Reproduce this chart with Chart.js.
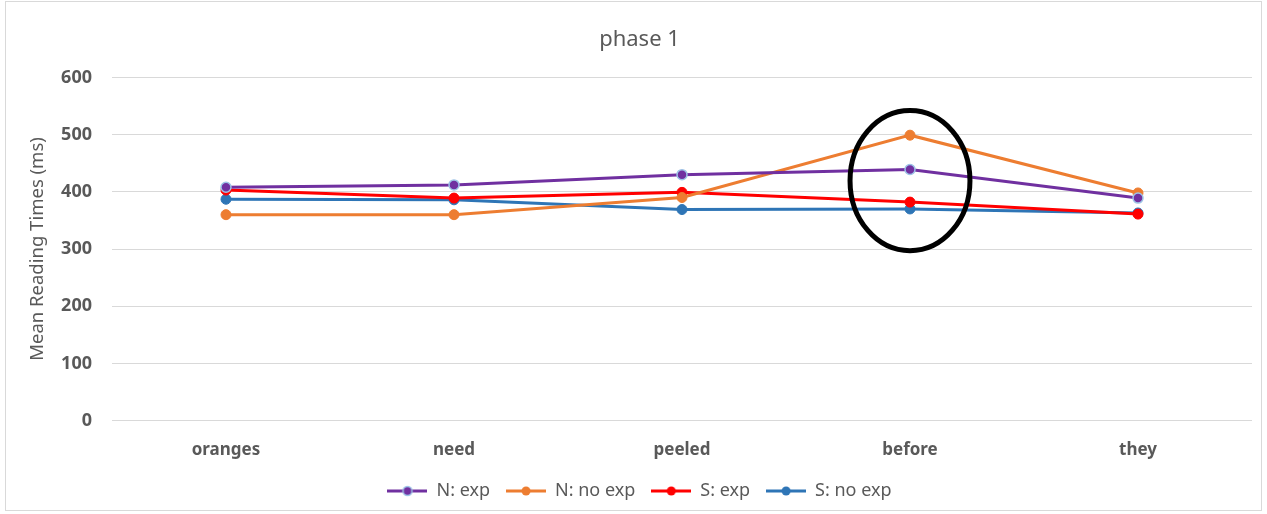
<!DOCTYPE html>
<html>
<head>
<meta charset="utf-8">
<script src="https://cdn.jsdelivr.net/npm/chart.js@4"></script>
<style>
  body{margin:0;background:#fff}
  #wrap{position:relative;width:1267px;height:514px}
  #frame{position:absolute;left:5px;top:1px;width:1255px;height:508px;border:1px solid #d9d9d9;pointer-events:none}
</style>
</head>
<body>
<div id="wrap">
  <canvas id="c" width="1267" height="514"></canvas>
  <div id="frame"></div>
</div>
<script>
// データ
const words = ['oranges', 'need', 'peeled', 'before', 'they']
const nExp = [408, 412, 430, 439, 389]
const nNoExp = [360, 360, 390, 499, 398]
const sExp = [403, 389, 399, 382, 361]
const sNoExp = [387, 386, 369, 370, 363]
const yTicks = [0, 100, 200, 300, 400, 500, 600]

// 丸で囲む部分 (before, 297〜542ms)
const circleAt = 'before'
const circleLow = 297
const circleHigh = 542

const grey = '#595959'
const fontName = "'Noto Sans', 'Open Sans', sans-serif"

function legendIcon(color, border){
    let cv = document.createElement('canvas')
    cv.width = 40
    cv.height = 12
    let ctx = cv.getContext('2d')
    ctx.strokeStyle = color
    ctx.lineWidth = 3
    ctx.beginPath()
    ctx.moveTo(0, 6)
    ctx.lineTo(40, 6)
    ctx.stroke()
    ctx.beginPath()
    ctx.arc(20, 6, 4.5, 0, Math.PI*2)
    ctx.fillStyle = color
    ctx.fill()
    if(border){
        ctx.lineWidth = 1.5
        ctx.strokeStyle = border
        ctx.stroke()
    }
    return cv
}

const ellipsePlugin = {
    id: 'ellipse',
    afterDatasetsDraw(chart){
        const x = chart.scales.x
        const y = chart.scales.y
        const cx = x.getPixelForValue(words.indexOf(circleAt))
        const top = y.getPixelForValue(circleHigh)
        const bottom = y.getPixelForValue(circleLow)
        const rx = (x.getPixelForValue(1) - x.getPixelForValue(0)) * 0.263
        const ctx = chart.ctx
        ctx.save()
        ctx.beginPath()
        ctx.ellipse(cx, (top+bottom)/2, rx, (bottom-top)/2, 0, 0, Math.PI*2)
        ctx.lineWidth = 5
        ctx.strokeStyle = '#000'
        ctx.stroke()
        ctx.restore()
    }
}

function series(label, data, color, border){
    return {
        label: label,
        data: data,
        borderColor: color,
        backgroundColor: color,
        pointBackgroundColor: color,
        pointBorderColor: border || color,
        pointBorderWidth: border ? 1.5 : 1,
        pointRadius: 5,
        borderWidth: 3,
        tension: 0,
        icon: legendIcon(color, border)
    }
}

new Chart(document.getElementById('c'), {
    type: 'line',
    data: {
        labels: words,
        datasets: [
            series('N: exp', nExp, '#7030a0', '#9dc3e6'),
            series('N: no exp', nNoExp, '#ed7d31'),
            series('S: exp', sExp, '#ff0000'),
            series('S: no exp', sNoExp, '#2e75b6')
        ]
    },
    options: {
        responsive: false,
        animation: false,
        layout: {padding: {left: 27, right: 15, top: 27, bottom: 4}},
        plugins: {
            title: {
                display: true,
                text: 'phase 1',
                color: grey,
                font: {family: fontName, size: 22, weight: 'normal'},
                padding: {top: 0, bottom: 24}
            },
            legend: {
                position: 'bottom',
                labels: {
                    usePointStyle: true,
                    pointStyleWidth: 40,
                    boxHeight: 12,
                    color: grey,
                    font: {family: fontName, size: 18},
                    padding: 16,
                    generateLabels(chart){
                        return chart.data.datasets.map((ds, i) => ({
                            text: ds.label,
                            pointStyle: ds.icon,
                            fontColor: grey,
                            datasetIndex: i,
                            hidden: false,
                            lineWidth: 0
                        }))
                    }
                }
            },
            tooltip: {enabled: false}
        },
        scales: {
            x: {
                offset: true,
                grid: {display: false},
                border: {display: false},
                ticks: {color: grey, font: {family: fontName, size: 17, weight: 'bold'}, padding: 11},
                afterFit(axis){
                    axis.height -= 5
                }
            },
            y: {
                min: 0,
                max: 600,
                afterBuildTicks(axis){
                    axis.ticks = yTicks.map(v => ({value: v}))
                },
                afterFit(axis){
                    axis.width = 85
                },
                grid: {color: '#d9d9d9', drawTicks: false},
                border: {display: false},
                ticks: {color: grey, font: {family: fontName, size: 18, weight: 'bold'}, padding: 20},
                title: {
                    display: true,
                    text: 'Mean Reading Times (ms)',
                    color: grey,
                    font: {family: fontName, size: 18.5, weight: 'normal'},
                    padding: {top: 0, bottom: 6}
                }
            }
        }
    },
    plugins: [ellipsePlugin]
})
</script>
</body>
</html>
